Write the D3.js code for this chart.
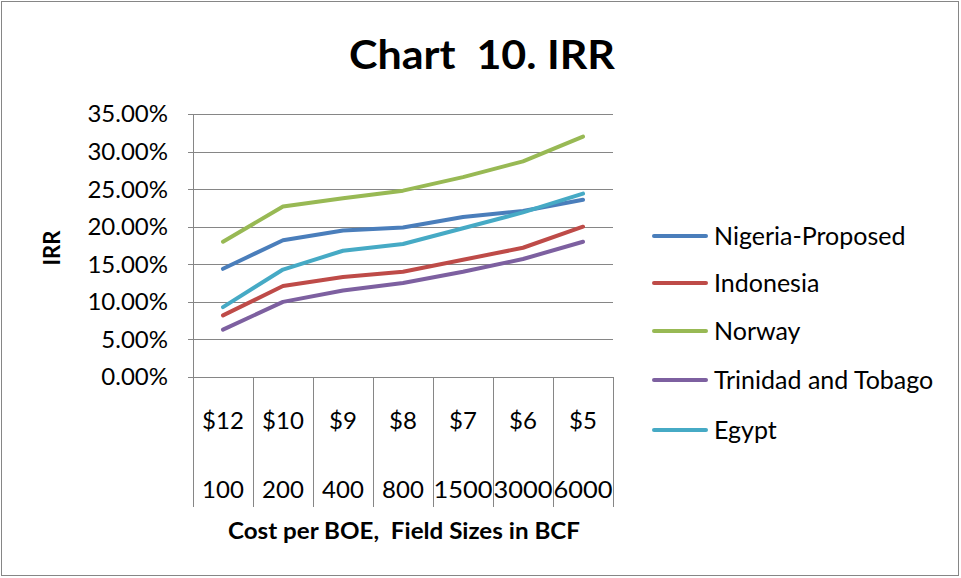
<!DOCTYPE html>
<html><head><meta charset="utf-8">
<script src="https://cdn.jsdelivr.net/npm/d3@7"></script>
<style>body{margin:0;background:#fff}svg{display:block}text{font-family:Lato,"Open Sans",sans-serif}</style>
</head><body>
<svg id="c" width="961" height="578"></svg>
<script>
const costLabels = ["$12","$10","$9","$8","$7","$6","$5"];
const sizeLabels = ["100","200","400","800","1500","3000","6000"];
const seriesNames = ["Nigeria-Proposed","Indonesia","Norway","Trinidad and Tobago","Egypt"];
const nigeria  = [14.4,18.2,19.5,19.9,21.3,22.1,23.6];
const indonesia= [8.2,12.1,13.3,14.0,15.6,17.2,20.0];
const norway   = [18.0,22.7,23.8,24.8,26.6,28.7,32.0];
const trinidad = [6.3,10.0,11.5,12.5,14.0,15.7,18.0];
const egypt    = [9.3,14.3,16.8,17.7,19.8,21.9,24.4];
const yTicks = [0,5,10,15,20,25,30,35];
const colors = ["#4A7EBB","#BE4B48","#98B954","#7D60A0","#46AAC5"];
const allSeries = [nigeria,indonesia,norway,trinidad,egypt];

const svg = d3.select("#c");
svg.append("rect").attr("x",1.5).attr("y",1.5).attr("width",957).attr("height",574)
  .attr("fill","#fff").attr("stroke","#868686").attr("stroke-width",1);

const L=193, R=613, T=114, B=377, XB=507;
const x = d3.scaleBand().domain(d3.range(costLabels.length)).range([L,R]).padding(0);
const y = d3.scaleLinear().domain([0,35]).range([B,T]);

svg.append("text").attr("x",482).attr("y",69).attr("text-anchor","middle")
  .attr("font-size",40).attr("font-weight","bold").attr("xml:space","preserve")
  .attr("textLength",266).attr("lengthAdjust","spacingAndGlyphs").text("Chart  10. IRR");

const g = svg.append("g");
g.selectAll("line.grid").data(yTicks).join("line")
  .attr("x1",L-5).attr("x2",R).attr("y1",d=>Math.round(y(d))+0.5).attr("y2",d=>Math.round(y(d))+0.5)
  .attr("stroke","#868686").attr("stroke-width",1);
g.selectAll("text.yt").data(yTicks).join("text")
  .attr("x",168).attr("y",d=>y(d)).attr("dy","0.35em").attr("text-anchor","end")
  .attr("font-size",24).attr("fill","#000").text(d=>d.toFixed(2)+"%");
const divs = d3.range(costLabels.length+1).map(i=> i<costLabels.length ? x(i) : R);
g.append("line").attr("x1",L+0.5).attr("x2",L+0.5).attr("y1",T).attr("y2",XB).attr("stroke","#868686");
g.selectAll("line.div").data(divs).join("line")
  .attr("x1",d=>Math.round(d)+0.5).attr("x2",d=>Math.round(d)+0.5).attr("y1",B).attr("y2",XB)
  .attr("stroke","#868686").attr("stroke-width",1);
g.selectAll("text.c1").data(costLabels).join("text")
  .attr("x",(d,i)=>x(i)+x.bandwidth()/2).attr("y",421).attr("dy","0.35em").attr("text-anchor","middle")
  .attr("font-size",24).text(d=>d);
g.selectAll("text.c2").data(sizeLabels).join("text")
  .attr("x",(d,i)=>x(i)+x.bandwidth()/2).attr("y",490).attr("dy","0.35em").attr("text-anchor","middle")
  .attr("font-size",24).attr("textLength",d=>d.length>3?59:null).attr("lengthAdjust","spacingAndGlyphs").text(d=>d);

const line = d3.line().x((d,i)=>x(i)+x.bandwidth()/2).y(d=>y(d));
allSeries.forEach((s,k)=>{
  svg.append("path").attr("d",line(s)).attr("fill","none").attr("stroke",colors[k])
    .attr("stroke-width",4).attr("stroke-linecap","round").attr("stroke-linejoin","round");
});

svg.append("text").attr("x",404).attr("y",531).attr("dy","0.35em").attr("text-anchor","middle")
  .attr("font-size",22).attr("font-weight","bold").attr("xml:space","preserve")
  .attr("textLength",352).attr("lengthAdjust","spacingAndGlyphs").text("Cost per BOE,  Field Sizes in BCF");
svg.append("text").attr("transform","translate(52,248) rotate(-90)").attr("dy","0.35em").attr("text-anchor","middle")
  .attr("font-size",22).attr("font-weight","bold").text("IRR");

const legY = [236,283,331,380,430];
seriesNames.forEach((n,k)=>{
  svg.append("line").attr("x1",654).attr("x2",706).attr("y1",legY[k]).attr("y2",legY[k])
    .attr("stroke",colors[k]).attr("stroke-width",4).attr("stroke-linecap","round");
  svg.append("text").attr("x",714).attr("y",legY[k]).attr("dy","0.35em").attr("font-size",25).text(n);
});
</script>
</body></html>
